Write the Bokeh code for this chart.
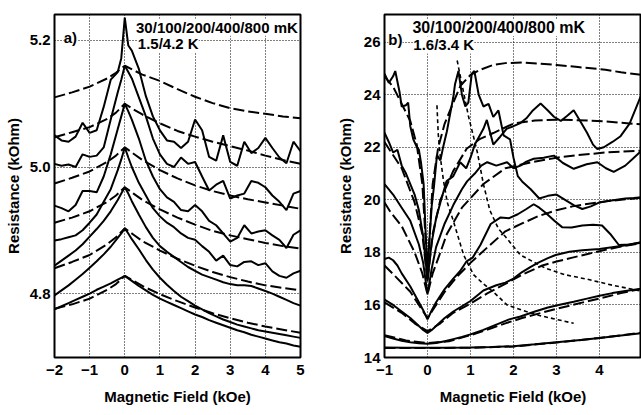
from bokeh.plotting import figure
from bokeh.layouts import row
from bokeh.models import Label, FixedTicker, PrintfTickFormatter
from bokeh.embed import file_html
from bokeh.resources import INLINE

# ---------------- panel a) ----------------
XA = [-2.0,-1.8,-1.6,-1.4,-1.2,-1.0,-0.8,-0.6,-0.4,-0.2,-0.1,0.0,0.1,0.2,0.4,0.6,0.8,1.0,1.2,1.4,
      1.6,1.8,2.0,2.2,2.4,2.6,2.8,3.0,3.2,3.4,3.6,3.8,4.0,4.2,4.4,4.6,4.8,5.0]
A_30mK = [5.050,5.042,5.040,5.048,5.070,5.054,5.058,5.095,5.138,5.150,5.172,5.236,5.192,
          5.184,5.155,5.112,5.080,5.058,5.042,5.040,5.030,5.040,5.075,
          5.058,5.016,5.010,5.050,5.008,5.002,5.040,5.022,5.030,5.046,
          5.030,5.015,5.006,5.040,5.025]
A_100mK = [5.005,5.002,5.004,5.000,5.020,5.016,5.018,5.031,5.075,5.118,5.138,5.160,5.150,
           5.140,5.110,5.080,5.045,5.020,5.005,5.000,5.015,5.005,5.008,
           4.985,4.963,4.972,4.978,4.950,4.955,4.958,4.978,4.975,4.968,
           4.955,4.945,4.932,4.958,4.962]
A_200mK = [4.939,4.935,4.930,4.940,4.962,4.962,4.960,4.985,5.020,5.060,5.080,5.100,5.088,
           5.075,5.045,5.010,4.985,4.965,4.952,4.945,4.932,4.930,4.940,
           4.930,4.915,4.908,4.895,4.882,4.888,4.908,4.895,4.898,4.900,
           4.892,4.885,4.872,4.893,4.900]
A_400mK = [4.884,4.886,4.889,4.892,4.900,4.912,4.925,4.945,4.965,4.995,5.012,5.031,5.015,
           5.000,4.975,4.955,4.935,4.922,4.912,4.905,4.895,4.888,4.885,
           4.875,4.866,4.852,4.860,4.845,4.843,4.850,4.851,4.845,4.848,
           4.835,4.828,4.825,4.832,4.836]
A_800mK = [4.844,4.852,4.860,4.868,4.878,4.890,4.902,4.915,4.930,4.948,4.958,4.968,4.958,
           4.946,4.925,4.905,4.888,4.875,4.866,4.858,4.850,4.842,4.836,
           4.830,4.826,4.822,4.818,4.815,4.813,4.813,4.812,4.808,4.804,
           4.800,4.795,4.790,4.785,4.781]
A_1_5K = [4.797,4.805,4.813,4.822,4.831,4.841,4.851,4.862,4.874,4.888,4.895,4.903,4.895,
          4.886,4.870,4.853,4.838,4.825,4.814,4.804,4.795,4.788,4.781,
          4.775,4.769,4.764,4.759,4.755,4.751,4.748,4.745,4.742,4.740,
          4.738,4.736,4.734,4.732,4.730]
A_4_2K = [4.775,4.780,4.785,4.790,4.795,4.800,4.806,4.811,4.816,4.822,4.825,4.828,4.824,
          4.820,4.812,4.805,4.798,4.792,4.787,4.782,4.777,4.772,4.767,
          4.763,4.758,4.754,4.750,4.746,4.742,4.739,4.735,4.732,4.729,
          4.726,4.723,4.721,4.718,4.716]

XD = [-2.0,-1.5,-1.0,-0.5,-0.25,0.0,0.25,0.5,1.0,1.5,2.0,2.5,3.0,3.5,4.0,4.5,5.0]
FA_1 = [5.110,5.118,5.127,5.140,5.149,5.160,5.153,5.146,5.136,5.123,5.111,5.101,5.093,5.088,5.084,5.080,5.077]
FA_2 = [5.047,5.055,5.063,5.076,5.086,5.100,5.091,5.083,5.069,5.057,5.048,5.040,5.033,5.026,5.018,5.011,5.005]
FA_3 = [4.974,4.983,4.993,5.008,5.018,5.031,5.021,5.011,4.995,4.982,4.971,4.962,4.955,4.949,4.944,4.939,4.934]
FA_4 = [4.912,4.920,4.930,4.945,4.955,4.968,4.958,4.948,4.933,4.920,4.909,4.899,4.892,4.886,4.880,4.875,4.871]
FA_5 = [4.840,4.850,4.861,4.878,4.889,4.903,4.893,4.883,4.868,4.855,4.844,4.834,4.826,4.819,4.813,4.809,4.805]
FA_6 = [4.776,4.783,4.792,4.806,4.815,4.828,4.820,4.812,4.799,4.788,4.778,4.769,4.761,4.754,4.748,4.743,4.738]

A_XTICKS = [-2, -1, 0, 1, 2, 3, 4, 5]
A_YTICKS = [4.8, 5.0, 5.2]

# ---------------- panel b) ----------------
RS1_X = [-1.0,-0.9,-0.8,-0.75,-0.7,-0.65,-0.6,-0.5,-0.45,-0.4,-0.33,-0.26,-0.2,-0.15,-0.09,-0.05,0.0,0.05,0.1,0.15,
         0.22,0.3,0.37,0.45,0.53,0.6,0.64,0.72,0.8,0.88,0.95,1.03,1.09,1.19,1.3,1.42,1.53,1.65,1.77,1.92,
         2.0,2.1,2.2,2.4,2.6,2.8,3.0,3.2,3.4,3.6,3.8,4.0,4.2,4.4,4.6,4.8,5.0]
RS1_Y = [24.80,24.45,24.70,24.90,24.50,24.10,23.55,23.60,23.70,22.80,22.30,22.05,21.90,21.40,20.60,19.00,17.20,18.60,19.80,20.50,
         21.70,21.50,22.05,22.60,23.30,23.90,24.40,24.90,24.00,23.55,23.70,24.80,24.90,24.00,23.55,23.65,23.15,23.40,22.45,22.30,
         21.60,20.90,20.70,20.40,20.05,20.15,20.20,20.00,19.80,19.65,19.75,19.90,19.95,20.00,20.05,20.07,20.10]
RS2_X = [-1.0,-0.9,-0.8,-0.7,-0.6,-0.5,-0.4,-0.3,-0.2,-0.1,-0.05,0.0,0.05,0.1,0.2,0.3,0.44,0.6,0.76,0.9,
         1.0,1.1,1.2,1.3,1.38,1.45,1.53,1.69,1.84,2.0,2.16,2.3,2.45,2.63,2.8,2.94,3.1,3.25,3.4,3.55,
         3.71,3.85,3.95,4.1,4.3,4.49,4.7,4.85,5.0]
RS2_Y = [22.55,22.20,21.80,21.90,21.30,21.00,20.60,20.20,19.60,18.60,17.80,16.90,17.70,18.40,19.30,19.90,20.70,20.90,21.43,21.20,
         21.60,22.10,22.40,22.70,23.04,22.60,22.10,22.40,22.70,22.80,22.92,23.10,23.40,23.66,23.40,23.16,23.00,23.20,23.41,23.00,
         22.55,22.10,21.93,22.00,22.20,22.42,22.90,23.50,24.10]
RS3_X = [-1.0,-0.8,-0.6,-0.4,-0.2,-0.1,0.0,0.1,0.2,0.4,0.6,0.8,0.92,1.1,1.25,1.39,1.6,1.85,2.0,2.16,
         2.3,2.47,2.7,2.94,3.15,3.4,3.7,3.95,4.15,4.33,4.6,4.8,5.0]
RS3_Y = [20.60,20.20,19.70,19.20,18.30,17.60,16.40,17.40,18.20,19.10,19.80,20.40,20.70,21.00,21.30,21.43,21.30,21.43,21.20,21.30,
         21.45,21.56,21.60,21.68,21.40,21.18,21.35,21.43,21.20,21.06,21.30,21.60,21.90]
RS4_X = [-1.0,-0.9,-0.8,-0.7,-0.6,-0.4,-0.2,-0.1,0.0,0.1,0.2,0.4,0.6,0.76,0.91,1.05,1.23,1.47,1.7,1.9,
         2.1,2.3,2.47,2.6,2.74,2.95,3.13,3.35,3.6,3.85,4.06,4.25,4.45,4.7,5.0]
RS4_Y = [17.75,17.80,17.70,17.50,17.20,16.70,16.10,15.80,15.45,15.80,16.10,16.60,17.00,17.29,17.66,17.80,18.28,19.08,19.33,19.30,
         19.45,19.65,19.83,19.70,19.52,19.20,18.96,18.95,19.02,19.05,19.02,18.70,18.28,18.30,18.40]
RS5_X = [-1.0,-0.8,-0.6,-0.4,-0.2,-0.1,0.0,0.1,0.2,0.4,0.6,0.8,1.0,1.3,1.6,1.81,2.0,2.2,2.4,2.59,
         2.8,2.98,3.3,3.6,4.0,4.5,5.0]
RS5_Y = [16.20,16.00,15.75,15.50,15.20,15.05,14.93,15.05,15.20,15.50,15.75,15.95,16.15,16.55,16.75,16.85,17.00,17.25,17.45,17.62,
         17.78,17.90,18.02,18.08,18.13,18.24,18.38]
RS6_X = [-1.0,-0.8,-0.6,-0.4,-0.2,0.0,0.2,0.4,0.6,0.8,1.0,1.3,1.6,1.9,2.16,2.5,2.8,3.1,3.4,3.71,4.0,4.3,4.6,5.0]
RS6_Y = [14.82,14.72,14.64,14.58,14.54,14.52,14.55,14.62,14.70,14.78,14.88,15.05,15.25,15.45,15.56,15.75,15.90,16.02,16.12,16.24,
         16.35,16.45,16.53,16.62]
RS7_X = [-1.0,-0.5,0.0,0.5,1.0,1.5,2.0,2.5,3.0,3.5,4.0,4.5,5.0]
RS7_Y = [14.38,14.37,14.37,14.37,14.38,14.40,14.43,14.50,14.58,14.66,14.74,14.84,14.93]

RD1_X = [-1.0,-0.8,-0.6,-0.4,-0.25,-0.12,0.0,0.12,0.25,0.4,0.6,0.77,1.0,1.23,1.53,1.81,2.2,2.6,3.0,3.5,4.14,4.5,5.0]
RD1_Y = [24.70,24.30,23.65,23.00,22.10,20.60,17.30,20.60,22.00,22.90,23.70,24.35,24.75,24.95,25.13,25.20,25.22,25.18,25.13,25.05,
         24.95,24.85,24.75]
RD2_X = [-1.0,-0.6,-0.3,-0.12,0.0,0.12,0.3,0.6,0.91,1.2,1.53,2.0,2.5,3.0,3.5,4.14,4.5,5.0]
RD2_Y = [22.20,21.20,19.90,18.70,16.90,18.70,20.00,21.10,21.94,22.30,22.54,22.90,23.02,23.05,23.03,22.98,22.93,22.87]
RD3_X = [-1.0,-0.86,-0.6,-0.3,-0.12,0.0,0.12,0.3,0.45,0.8,1.3,1.81,2.4,3.0,3.5,4.14,5.0]
RD3_Y = [19.90,19.53,19.00,18.00,17.20,16.40,17.20,18.00,18.70,19.70,20.60,21.20,21.42,21.60,21.70,21.80,21.87]
RD4_X = [-1.0,-0.72,-0.4,-0.2,0.0,0.2,0.4,0.7,1.0,1.4,1.81,2.2,2.58,3.0,3.37,3.75,4.14,4.5,5.0]
RD4_Y = [17.50,17.04,16.50,16.00,15.50,16.00,16.50,17.10,17.60,18.20,18.80,19.10,19.38,19.60,19.75,19.85,19.94,20.00,20.08]
RD5_X = [-1.0,-0.6,-0.3,0.0,0.3,0.6,1.0,1.4,1.81,2.2,2.67,3.0,3.37,3.75,4.14,4.5,5.0]
RD5_Y = [16.10,15.70,15.30,15.00,15.30,15.70,16.05,16.45,16.80,17.15,17.50,17.65,17.80,17.95,18.10,18.22,18.36]
RD6_X = [-1.0,-0.5,0.0,0.5,1.0,1.5,1.81,2.2,2.58,3.0,3.37,3.75,4.14,4.5,5.0]
RD6_Y = [14.85,14.65,14.55,14.62,14.85,15.12,15.30,15.50,15.67,15.85,16.00,16.15,16.30,16.45,16.62]
RD7_X = [-1.0,0.0,1.0,2.0,3.0,4.0,5.0]
RD7_Y = [14.36,14.36,14.37,14.42,14.57,14.74,14.95]

DT1_X = [0.69,0.8,0.95,1.16,1.3,1.45,1.65,1.81,2.16,2.74,3.2,3.71,4.3,5.0]
DT1_Y = [25.30,24.40,23.20,21.80,20.60,19.60,18.90,18.60,17.90,17.40,17.15,16.98,16.75,16.52]
DT2_X = [0.22,0.25,0.3,0.37,0.46,0.6,0.84,1.07,1.3,1.53,1.85,2.2,2.6,3.0,3.4]
DT2_Y = [23.60,22.50,21.60,20.75,19.90,19.20,17.90,17.15,16.80,16.50,16.00,15.80,15.60,15.45,15.30]

B_XTICKS = [-1, 0, 1, 2, 3, 4, 5]
B_YTICKS = [14, 16, 18, 20, 22, 24, 26]

FONT = "Liberation Sans"
SOLID_W = 2.0
DASH = "11 4"
DOT = "4 3"


def style(p, xticks, yticks, fmt):
    p.outline_line_color = "black"
    p.outline_line_width = 2
    p.background_fill_color = "white"
    p.border_fill_color = "white"
    p.xaxis.ticker = FixedTicker(ticks=xticks)
    p.yaxis.ticker = FixedTicker(ticks=yticks)
    p.yaxis.formatter = PrintfTickFormatter(format=fmt)
    for ax in (p.xaxis, p.yaxis):
        ax.axis_line_color = None
        ax.major_tick_line_color = None
        ax.minor_tick_line_color = None
        ax.major_tick_out = 0
        ax.major_tick_in = 0
        ax.major_label_text_font = FONT
        ax.major_label_text_font_style = "bold"
        ax.major_label_text_font_size = "15px"
        ax.major_label_text_color = "black"
        ax.axis_label_text_font = FONT
        ax.axis_label_text_font_style = "bold"
        ax.axis_label_text_font_size = "15px"
        ax.axis_label_text_color = "black"
    p.xaxis.axis_label = "Magnetic Field (kOe)"
    p.yaxis.axis_label = "Resistance (kOhm)"
    p.xaxis.major_label_standoff = 7
    p.xaxis.axis_label_standoff = 10
    p.yaxis.major_label_standoff = 4
    for g in (p.xgrid, p.ygrid):
        g.grid_line_color = "black"
        g.grid_line_dash = "1 2"
        g.grid_line_width = 1
        g.grid_line_alpha = 1.0


def label(p, x, y, text, size="16px"):
    p.add_layout(Label(x=x, y=y, text=text, text_font=FONT, text_font_style="bold",
                       text_font_size=size, text_color="black", text_baseline="middle",
                       text_align="left", background_fill_color="white"))


# ---------- figure a ----------
pa = figure(width=320, height=415, x_range=(-2, 5), y_range=(4.699, 5.241),
            output_backend="svg", toolbar_location=None,
            min_border_left=54, min_border_right=20, min_border_top=14, min_border_bottom=58)
style(pa, A_XTICKS, A_YTICKS, "%.1f")
pa.yaxis.axis_label_standoff = 5

for ys in (FA_1, FA_2, FA_3, FA_4, FA_5, FA_6):
    pa.line(XD, ys, line_color="black", line_width=2, line_dash=DASH)
for ys in (A_30mK, A_100mK, A_200mK, A_400mK, A_800mK, A_1_5K, A_4_2K):
    pa.line(XA, ys, line_color="black", line_width=SOLID_W)

label(pa, -1.74, 5.205, "a)", "15px")
label(pa, 0.32, 5.221, "30/100/200/400/800 mK", "15px")
label(pa, 0.37, 5.195, "1.5/4.2 K", "15px")

# ---------- figure b ----------
pb = figure(width=321, height=415, x_range=(-1, 4.977), y_range=(14, 27.05),
            output_backend="svg", toolbar_location=None,
            min_border_left=64, min_border_right=0, min_border_top=5, min_border_bottom=58)
style(pb, B_XTICKS, B_YTICKS, "%d")
pb.yaxis.axis_label_standoff = 7

for xs, ys in ((RD1_X, RD1_Y), (RD2_X, RD2_Y), (RD3_X, RD3_Y), (RD4_X, RD4_Y),
               (RD5_X, RD5_Y), (RD6_X, RD6_Y), (RD7_X, RD7_Y)):
    pb.line(xs, ys, line_color="black", line_width=2, line_dash=DASH)
for xs, ys in ((DT1_X, DT1_Y), (DT2_X, DT2_Y)):
    pb.line(xs, ys, line_color="black", line_width=1.6, line_dash=DOT)
for xs, ys in ((RS1_X, RS1_Y), (RS2_X, RS2_Y), (RS3_X, RS3_Y), (RS4_X, RS4_Y),
               (RS5_X, RS5_Y), (RS6_X, RS6_Y), (RS7_X, RS7_Y)):
    pb.line(xs, ys, line_color="black", line_width=SOLID_W)

label(pb, -0.91, 26.10, "b)", "15px")
label(pb, -0.35, 26.56, "30/100/200/400/800 mK", "16px")
label(pb, -0.33, 25.89, "1.6/3.4 K", "15px")

layout = row(pa, pb)
open("out.html", "w").write(file_html(layout, INLINE))
